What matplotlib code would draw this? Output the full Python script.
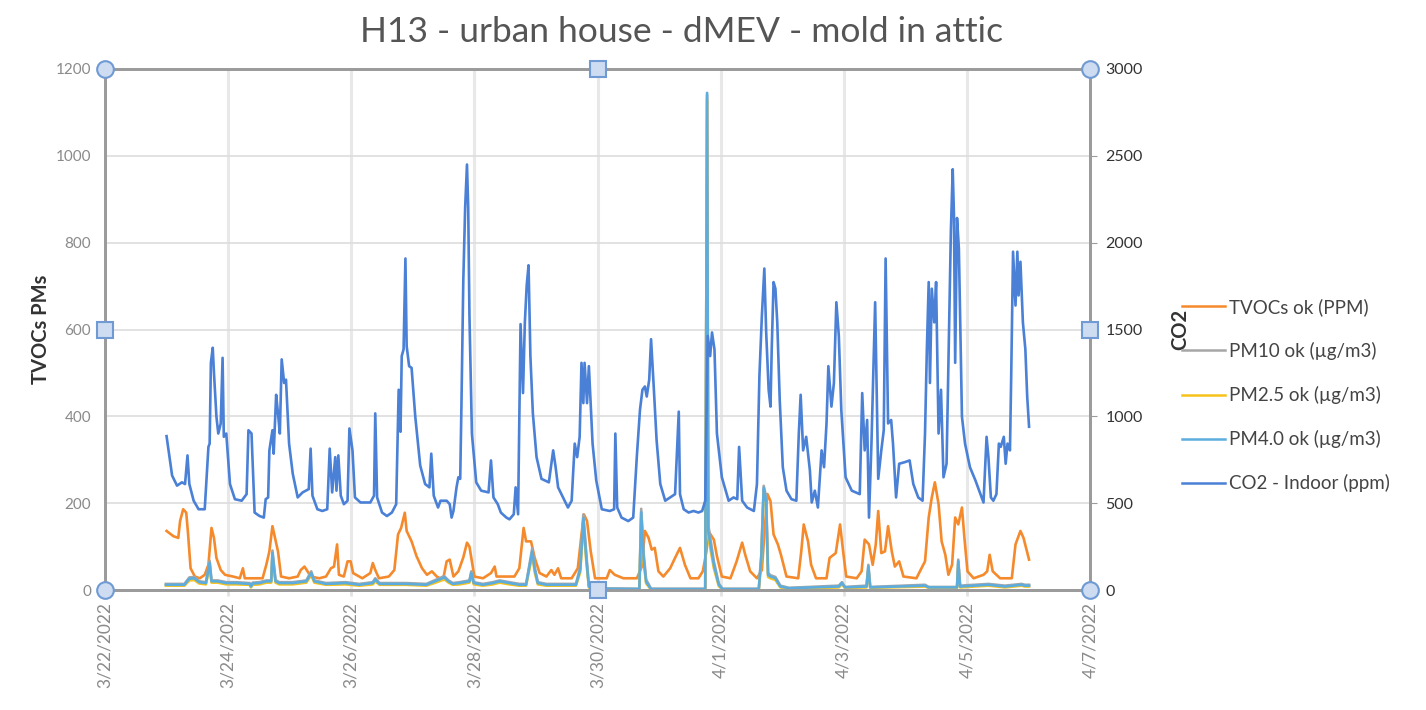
import numpy as np
import matplotlib
matplotlib.use("Agg")
import matplotlib.pyplot as plt
from matplotlib.lines import Line2D

plt.rcParams['font.family'] = ['Lato', 'DejaVu Sans']

# ---- data (x = days after 3/22/2022 00:00) ----
date_labels = ['3/22/2022', '3/24/2022', '3/26/2022', '3/28/2022', '3/30/2022',
               '4/1/2022', '4/3/2022', '4/5/2022', '4/7/2022']

co2_t = [1.00, 1.09, 1.17, 1.25, 1.30, 1.34, 1.37, 1.44, 1.52, 1.62, 1.68, 1.70, 1.72, 1.75, 1.77,
         1.81, 1.84, 1.88, 1.91, 1.93, 1.97, 2.03, 2.11, 2.22, 2.30, 2.33, 2.38, 2.43, 2.51, 2.58,
         2.61, 2.65, 2.67, 2.72, 2.74, 2.78, 2.81, 2.84, 2.87, 2.91, 2.94, 2.99, 3.05, 3.13, 3.21,
         3.31, 3.34, 3.37, 3.45, 3.53, 3.61, 3.65, 3.69, 3.74, 3.76, 3.79, 3.83, 3.88, 3.94, 3.97,
         4.02, 4.06, 4.15, 4.31, 4.37, 4.39, 4.42, 4.50, 4.58, 4.66, 4.73, 4.77, 4.80, 4.82, 4.85,
         4.88, 4.90, 4.94, 4.98, 5.04, 5.12, 5.20, 5.27, 5.30, 5.34, 5.41, 5.45, 5.55, 5.60, 5.63,
         5.66, 5.71, 5.74, 5.77, 5.79, 5.82, 5.85, 5.88, 5.90, 5.92, 5.96, 6.03, 6.11, 6.23, 6.27,
         6.31, 6.38, 6.43, 6.52, 6.57, 6.64, 6.67, 6.71, 6.75, 6.79, 6.82, 6.85, 6.88, 6.91, 6.95,
         7.01, 7.09, 7.21, 7.28, 7.32, 7.36, 7.44, 7.52, 7.58, 7.63, 7.67, 7.71, 7.74, 7.77, 7.79,
         7.83, 7.86, 7.92, 7.98, 8.07, 8.20, 8.27, 8.29, 8.32, 8.39, 8.50, 8.58, 8.64, 8.69, 8.73,
         8.77, 8.80, 8.84, 8.87, 8.91, 8.96, 9.02, 9.10, 9.18, 9.26, 9.32, 9.34, 9.40, 9.48, 9.56,
         9.64, 9.70, 9.75, 9.79, 9.83, 9.86, 9.90, 9.94, 10.02, 10.13, 10.21, 10.27, 10.30, 10.35,
         10.43, 10.54, 10.59, 10.63, 10.67, 10.71, 10.74, 10.78, 10.81, 10.83, 10.86, 10.89, 10.92,
         10.96, 11.01, 11.07, 11.15, 11.23, 11.27, 11.30, 11.34, 11.39, 11.45, 11.48, 11.53, 11.58,
         11.64, 11.68, 11.72, 11.75, 11.80, 11.84, 11.88, 11.92, 11.96, 12.03, 12.13, 12.26, 12.30,
         12.34, 12.38, 12.41, 12.45, 12.51, 12.56, 12.61, 12.65, 12.68, 12.72, 12.77, 12.80, 12.85,
         12.90, 12.99, 13.07, 13.13, 13.21, 13.28, 13.32, 13.35, 13.38, 13.40, 13.43, 13.47, 13.50,
         13.54, 13.58, 13.62, 13.67, 13.72, 13.74, 13.77, 13.79, 13.81, 13.84, 13.87, 13.89, 13.92,
         13.97, 14.05, 14.14, 14.22, 14.27, 14.32, 14.35, 14.39, 14.43, 14.48, 14.52, 14.55, 14.60,
         14.63, 14.66, 14.70, 14.72, 14.75, 14.79, 14.82, 14.84, 14.87, 14.91, 14.95, 14.98, 15.01]
co2_v = [886, 659, 601, 620, 610, 775, 610, 514, 465, 465, 824, 843, 1308, 1395, 1250,
         998, 901, 959, 1337, 882, 901, 610, 523, 514, 552, 920, 901, 446, 426, 417,
         523, 533, 804, 920, 785, 1124, 1017, 901, 1328, 1192, 1211, 843, 669, 533, 562,
         581, 814, 543, 465, 455, 465, 814, 562, 765, 572, 775, 543, 494, 514, 930,
         804, 533, 504, 504, 543, 1017, 533, 446, 426, 446, 494, 1153, 911, 1347, 1386,
         1909, 1405, 1289, 1279, 998, 717, 610, 591, 785, 543, 475, 514, 514, 494, 417,
         455, 591, 649, 640, 1066, 1780, 2200, 2450, 2200, 1580, 900, 620, 572, 562, 746,
         533, 494, 446, 417, 407, 436, 591, 436, 1531, 1134, 1541, 1754, 1870, 1347, 1017,
         765, 640, 620, 804, 707, 591, 533, 475, 514, 843, 765, 882, 1308, 1076, 1308,
         1076, 1289, 843, 630, 465, 455, 465, 901, 475, 417, 397, 417, 775, 1037, 1153,
         1172, 1114, 1211, 1444, 1192, 862, 610, 514, 533, 552, 1027, 552, 465, 446, 455,
         446, 455, 514, 1463, 1347, 1483, 1386, 901, 649, 514, 533, 523, 824, 514,
         475, 455, 610, 1231, 1579, 1851, 1483, 1153, 1056, 1386, 1773, 1735, 1541,
         1095, 707, 572, 523, 514, 901, 1124, 804, 882, 688, 504, 572, 475,
         804, 707, 959, 1289, 1056, 1192, 1657, 1463, 1037, 649, 572, 552, 1134,
         804, 979, 417, 843, 1657, 640, 804, 920, 1909, 959, 979, 843, 533,
         727, 736, 746, 610, 533, 514, 901, 1386, 1773, 1192, 1735, 1541, 1773,
         901, 1153, 649, 727, 1676, 2064, 2423, 2161, 1308, 2142, 1967, 1579, 998,
         843, 707, 630, 552, 504, 882, 765, 533, 514, 552, 843, 824, 882,
         727, 843, 804, 1231, 1948, 1638, 1948, 1696, 1890, 1541, 1386, 1114, 940]

tvoc_t = [1.00, 1.11, 1.19, 1.22, 1.27, 1.32, 1.35, 1.39, 1.46, 1.54, 1.62, 1.68, 1.73, 1.77, 1.81,
          1.88, 1.95, 2.08, 2.19, 2.24, 2.27, 2.40, 2.56, 2.62, 2.67, 2.72, 2.75, 2.81, 2.86, 2.99,
          3.13, 3.18, 3.24, 3.29, 3.34, 3.48, 3.59, 3.67, 3.72, 3.77, 3.80, 3.88, 3.94, 3.99, 4.03,
          4.18, 4.31, 4.35, 4.39, 4.45, 4.61, 4.70, 4.76, 4.81, 4.87, 4.90, 4.98, 5.06, 5.15, 5.23,
          5.31, 5.39, 5.49, 5.55, 5.60, 5.66, 5.74, 5.82, 5.88, 5.92, 5.96, 6.00, 6.14, 6.27, 6.33,
          6.36, 6.52, 6.65, 6.73, 6.80, 6.84, 6.92, 6.98, 7.06, 7.17, 7.25, 7.30, 7.36, 7.41, 7.58,
          7.68, 7.74, 7.78, 7.83, 7.89, 7.96, 8.15, 8.20, 8.28, 8.42, 8.64, 8.72, 8.77, 8.83, 8.88,
          8.93, 8.99, 9.07, 9.18, 9.26, 9.34, 9.42, 9.51, 9.64, 9.71, 9.77, 9.80, 9.89, 9.94, 10.02,
          10.16, 10.26, 10.35, 10.40, 10.48, 10.59, 10.67, 10.73, 10.76, 10.81, 10.86, 10.93, 10.98,
          11.07, 11.26, 11.31, 11.35, 11.42, 11.47, 11.55, 11.72, 11.77, 11.87, 11.94, 11.99, 12.04,
          12.21, 12.29, 12.34, 12.41, 12.47, 12.52, 12.56, 12.61, 12.67, 12.72, 12.78, 12.83, 12.90,
          12.97, 13.18, 13.32, 13.38, 13.43, 13.48, 13.54, 13.59, 13.65, 13.70, 13.76, 13.81, 13.86,
          13.92, 13.96, 14.01, 14.11, 14.27, 14.33, 14.37, 14.42, 14.54, 14.73, 14.79, 14.87, 14.92,
          15.01]
tvoc_v = [136, 124, 120, 159, 186, 178, 128, 50, 31, 27, 35, 58, 143, 120, 74,
          46, 35, 31, 27, 50, 27, 27, 27, 58, 89, 147, 128, 89, 31, 27,
          31, 46, 54, 43, 31, 27, 31, 50, 54, 105, 35, 31, 66, 66, 39,
          27, 39, 62, 46, 27, 31, 46, 128, 143, 178, 136, 112, 78, 50, 35,
          43, 31, 23, 66, 70, 31, 43, 75, 109, 100, 66, 31, 27, 39, 54,
          31, 31, 31, 50, 143, 112, 112, 74, 39, 31, 46, 35, 50, 27, 27,
          50, 128, 174, 159, 89, 27, 27, 46, 35, 27, 27, 54, 136, 120, 93,
          97, 43, 31, 50, 74, 97, 58, 27, 27, 43, 89, 136, 116, 78, 31,
          27, 66, 109, 81, 43, 27, 46, 167, 221, 205, 128, 105, 81,
          31, 27, 89, 151, 112, 58, 27, 27, 74, 85, 151, 89, 31,
          27, 43, 116, 105, 58, 105, 182, 85, 89, 147, 89, 54, 66,
          31, 27, 66, 167, 213, 248, 198, 112, 81, 35, 58, 167, 151,
          190, 120, 43, 27, 35, 43, 81, 43, 27, 27, 105, 136, 120,
          70]

pm_t = [0.99, 1.29, 1.37, 1.45, 1.53, 1.64, 1.70, 1.73, 1.83, 1.97, 2.13, 2.35, 2.37, 2.40, 2.51,
        2.62, 2.70, 2.72, 2.77, 2.83, 3.05, 3.27, 3.35, 3.40, 3.59, 3.91, 4.13, 4.35, 4.39, 4.46,
        4.89, 5.22, 5.43, 5.51, 5.58, 5.65, 5.76, 5.92, 5.95, 5.99, 6.14, 6.30, 6.41, 6.57, 6.73,
        6.84, 6.94, 6.98, 7.03, 7.17, 7.38, 7.65, 7.72, 7.77, 7.82, 7.86, 7.90, 8.68, 8.71, 8.75,
        8.79, 8.87, 9.75, 9.78, 9.80, 9.89, 9.97, 10.03, 10.62, 10.66, 10.70, 10.74, 10.77, 10.81,
        10.89, 10.97, 11.11, 11.92, 11.97, 12.02, 12.37, 12.40, 12.43, 13.32, 13.38, 13.84, 13.86,
        13.89, 14.35, 14.62, 14.89, 14.94, 15.01]
pm40_v = [12, 12, 26, 27, 18, 16, 62, 20, 20, 16, 16, 14, 8, 15, 16,
          20, 20, 85, 20, 16, 16, 20, 39, 20, 14, 16, 12, 16, 24, 14,
          14, 12, 24, 29, 20, 14, 16, 20, 39, 16, 12, 16, 20, 16, 12,
          12, 89, 47, 16, 12, 12, 12, 47, 165, 70, 8, 3, 2, 179, 73,
          19, 2, 2, 1145, 135, 58, 12, 2, 2, 73, 235, 204, 35, 31,
          27, 8, 4, 8, 16, 6, 8, 54, 6, 10, 6, 6, 66,
          8, 12, 8, 12, 10, 10]
pm10_v = [14, 14, 29, 30, 20, 18, 67, 22, 22, 18, 18, 16, 10, 17, 18,
          22, 22, 91, 23, 18, 18, 22, 43, 22, 16, 18, 14, 18, 27, 16,
          16, 14, 27, 32, 22, 16, 18, 22, 43, 18, 14, 18, 22, 18, 14,
          14, 96, 53, 18, 14, 14, 14, 53, 174, 80, 10, 4, 3, 187, 84,
          24, 3, 3, 1140, 150, 66, 15, 3, 3, 80, 240, 214, 40, 34,
          30, 10, 5, 10, 18, 7, 10, 58, 7, 12, 7, 7, 70,
          10, 14, 10, 14, 12, 12]
pm25_v = [10, 10, 22, 23, 15, 13, 55, 17, 17, 13, 13, 12, 6, 12, 13,
          17, 17, 77, 17, 13, 13, 17, 34, 17, 12, 13, 10, 13, 20, 12,
          12, 10, 20, 25, 17, 12, 13, 17, 34, 13, 10, 13, 17, 13, 10,
          10, 80, 41, 13, 10, 10, 10, 41, 155, 62, 6, 2, 1, 170, 64,
          15, 1, 1, 1130, 122, 50, 9, 1, 1, 64, 226, 194, 30, 27,
          23, 6, 3, 6, 13, 5, 6, 48, 5, 8, 5, 5, 60,
          6, 10, 6, 10, 8, 8]

# ---- colours ----
c_tvoc = '#f58a2c'
c_pm10 = '#a6a6a6'
c_pm25 = '#f7c21a'
c_pm40 = '#5cadde'
c_co2 = '#4a80d6'
c_frame = '#9b9b9b'
lw = 1.9

fig = plt.figure(figsize=(14.26, 7.10), dpi=100)
ax = fig.add_axes([105 / 1426, 1 - 590 / 710, 985 / 1426, 521 / 710])
ax2 = ax.twinx()

ax.plot(tvoc_t, tvoc_v, color=c_tvoc, lw=lw, zorder=3)
ax.plot(pm_t, pm10_v, color=c_pm10, lw=lw, zorder=4)
ax.plot(pm_t, pm25_v, color=c_pm25, lw=lw, zorder=5)
ax.plot(pm_t, pm40_v, color=c_pm40, lw=lw, zorder=6)
ax2.plot(co2_t, co2_v, color=c_co2, lw=lw, zorder=3)

ax.set_xlim(0, 16)
ax.set_ylim(0, 1200)
ax2.set_ylim(0, 3000)

ax.set_xticks(range(0, 17, 2))
ax.set_xticklabels(date_labels, rotation=90, fontsize=12.5, color='#8a8a8a')
ax.set_yticks(range(0, 1201, 200))
ax.tick_params(axis='y', length=0, labelsize=11, labelcolor='#8a8a8a', pad=10)
ax.tick_params(axis='x', length=4, color='#e2e2e2', width=2, pad=5)
ax2.set_yticks(range(0, 3001, 500))
ax2.tick_params(axis='y', length=5, color=c_frame, labelsize=11.5, labelcolor='#333333', pad=6)

ax.yaxis.grid(True, color='#dddddd', lw=1.2)
ax.xaxis.grid(True, color='#e8e8e8', lw=2.2)
ax.set_axisbelow(True)

for a in (ax, ax2):
    for s in a.spines.values():
        s.set_color(c_frame)
        s.set_linewidth(2)

ax.set_ylabel('TVOCs PMs', fontsize=14.5, fontweight='bold', color='#333333', labelpad=3)
ax2.set_ylabel('CO2', fontsize=14.5, fontweight='bold', color='#333333', labelpad=20)

fig.text(682 / 1426, 1 - 32 / 710, 'H13 - urban house - dMEV - mold in attic',
         ha='center', va='center', fontsize=25.5, color='#555555')

# selection handles (circles at corners, squares at mid-points)
hx = [0, 1, 0, 1]
hy = [0, 0, 1, 1]
ax2.plot(hx, hy, 'o', transform=ax2.transAxes, ms=12, mfc='#cddcf1', mec='#6f9ad4',
         mew=1.5, clip_on=False, zorder=20)
sx = [0.5, 0.5, 0, 1]
sy = [0, 1, 0.5, 0.5]
ax2.plot(sx, sy, 's', transform=ax2.transAxes, ms=11, mfc='#cddcf1', mec='#6f9ad4',
         mew=1.5, clip_on=False, zorder=20)

handles = [Line2D([], [], color=c, lw=1.8) for c in (c_tvoc, c_pm10, c_pm25, c_pm40, c_co2)]
labels = ['TVOCs ok (PPM)', 'PM10 ok (\u00b5g/m3)', 'PM2.5 ok (\u00b5g/m3)',
          'PM4.0 ok (\u00b5g/m3)', 'CO2 - Indoor (ppm)']
leg = fig.legend(handles, labels, loc='upper left', bbox_to_anchor=(1182 / 1426, 1 - 298 / 710),
                 frameon=False, fontsize=13.5, handlelength=2.3, handletextpad=0.2,
                 labelspacing=1.39, borderpad=0, borderaxespad=0)
for t in leg.get_texts():
    t.set_color('#444444')

fig.savefig('out.png', dpi=100)
